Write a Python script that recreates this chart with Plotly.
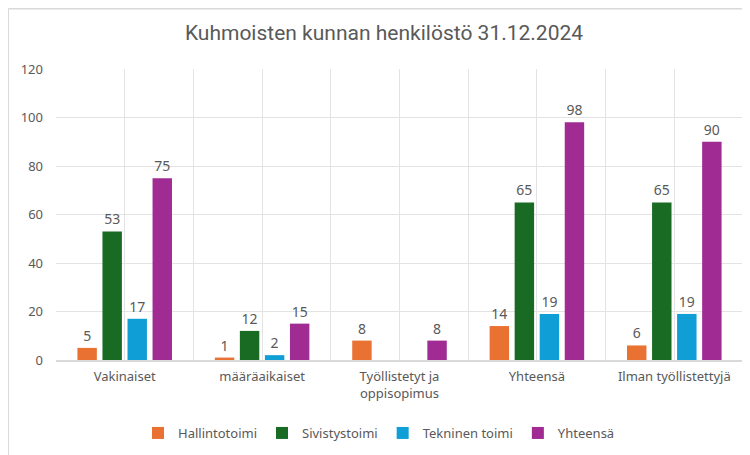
import plotly.graph_objects as go

categories = ["Vakinaiset", "määräaikaiset", "Työllistetyt ja<br>oppisopimus", "Yhteensä", "Ilman työllistettyjä"]
hallinto = [5, 1, 8, 14, 6]
sivistys = [53, 12, None, 65, 65]
tekninen = [17, 2, None, 19, 19]
yhteensa = [75, 15, 8, 98, 90]

series = [
    ("Hallintotoimi", hallinto, "#E97132"),
    ("Sivistystoimi", sivistys, "#196B24"),
    ("Tekninen toimi", tekninen, "#0F9ED5"),
    ("Yhteensä", yhteensa, "#A02B93"),
]

xpos = list(range(len(categories)))
FONT = "Noto Sans, Open Sans, sans-serif"
GRAY = "#595959"

fig = go.Figure()
for name, vals, col in series:
    fig.add_trace(go.Bar(
        x=xpos, y=vals, name=name, marker_color=col,
        marker_line_width=0,
        text=[("" if v is None else str(v)) for v in vals],
        textposition="outside", cliponaxis=False,
        textfont=dict(family=FONT, size=14, color=GRAY),
    ))

# page body has an 8px margin; figure coordinates = page px - 8
OFF = 8
W, H = 750 - OFF, 455 - OFF
L, R, T, B = 56.4 - OFF, 742.6 - OFF, 69 - OFF, 360 - OFF
fig.update_layout(
    width=W, height=H,
    margin=dict(l=L, r=W - R, t=T, b=H - B, autoexpand=False),
    paper_bgcolor="white", plot_bgcolor="white",
    barmode="group", bargap=0.271, bargroupgap=0.224,
    font=dict(family=FONT, size=13, color=GRAY),
    title=dict(text="Kuhmoisten kunnan henkilöstö 31.12.2024",
               font=dict(family="Roboto, sans-serif", size=21, color=GRAY),
               x=(384 - OFF) / W, xanchor="center", xref="container",
               y=1 - (33 - OFF) / H, yanchor="middle", yref="container"),
    legend=dict(orientation="h", x=(379 - OFF) / W, xanchor="center", xref="container",
                y=1 - (433 - OFF) / H, yanchor="middle", yref="container",
                font=dict(family=FONT, size=13, color=GRAY),
                itemwidth=30, traceorder="normal", tracegroupgap=0),
    xaxis=dict(
        range=[-0.5, len(categories) - 0.5], automargin=False,
        tickmode="array", tickvals=xpos, ticktext=categories,
        showgrid=True, gridcolor="#e3e3e3", gridwidth=1,
        minor=dict(tickmode="array", tickvals=[i - 0.5 for i in range(len(categories) + 1)],
                   showgrid=True, gridcolor="#e3e3e3", gridwidth=1, ticks=""),
        showline=True, linecolor="#d9d9d9", linewidth=1.5,
        ticks="", zeroline=False, ticklabelstandoff=4,
        tickfont=dict(family=FONT, size=13, color=GRAY),
    ),
    yaxis=dict(
        range=[0, 120], dtick=20, tick0=0, automargin=False,
        showgrid=True, gridcolor="#e3e3e3", gridwidth=1,
        zeroline=False, showline=False, ticks="",
        ticklabelstandoff=12,
        tickfont=dict(family=FONT, size=13, color=GRAY),
    ),
)

pw, ph = R - L, B - T
def px2paper_x(px):
    return (px - OFF - L) / pw
def px2paper_y(py):
    return (B - (py - OFF)) / ph

# light chart-area border (top and left edges)
fig.add_shape(type="line", xref="paper", yref="paper",
              x0=px2paper_x(8.7), x1=px2paper_x(760), y0=px2paper_y(8.7), y1=px2paper_y(8.7),
              line=dict(color="#d9d9d9", width=1.5))
fig.add_shape(type="line", xref="paper", yref="paper",
              x0=px2paper_x(8.7), x1=px2paper_x(8.7), y0=px2paper_y(8.7), y1=px2paper_y(470),
              line=dict(color="#d9d9d9", width=1.5))

fig.write_html("out.html")
